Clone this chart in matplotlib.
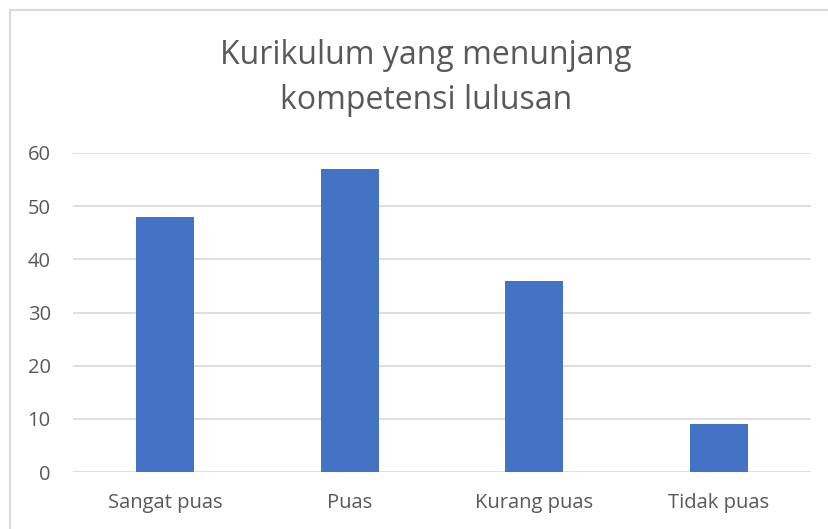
import matplotlib
matplotlib.use("Agg")
import matplotlib.pyplot as plt
from matplotlib.patches import Rectangle

categories = ["Sangat puas", "Puas", "Kurang puas", "Tidak puas"]
values = [48, 57, 36, 9]
yticks = [0, 10, 20, 30, 40, 50, 60]
title = "Kurikulum yang menunjang\nkompetensi lulusan"

plt.rcParams['font.family'] = ['Open Sans', 'DejaVu Sans']
W, H = 829, 529
fig = plt.figure(figsize=(W/100, H/100), dpi=100)
fig.patch.set_facecolor('white')
fig.add_artist(Rectangle((10/W, -0.05), 1.1, 1 - 10/H + 0.05, transform=fig.transFigure,
                         fill=False, edgecolor='#d9d9d9', linewidth=1.5))

ax = fig.add_axes([73/W, 1 - 472/H, (811-73)/W, (472-153)/H])
x = range(len(categories))
ax.bar(x, values, width=0.315, color='#4472c4', zorder=3)
ax.set_xlim(-0.5, len(categories) - 0.5)
ax.set_ylim(0, 60)
ax.set_yticks(yticks)
ax.set_xticks(list(x))
ax.set_xticklabels(categories)
ax.grid(axis='y', color='#d9d9d9', linewidth=1.2, zorder=0)
for s in ax.spines.values():
    s.set_visible(False)
ax.tick_params(length=0, labelsize=14.5, colors='#595959')
ax.tick_params(axis='x', pad=15)
ax.tick_params(axis='y', pad=16)

fig.text(426/W, 1 - 78/H, title, ha='center', va='center', fontsize=23,
         color='#595959', linespacing=1.45)

fig.savefig("out.png", dpi=100, facecolor='white')
